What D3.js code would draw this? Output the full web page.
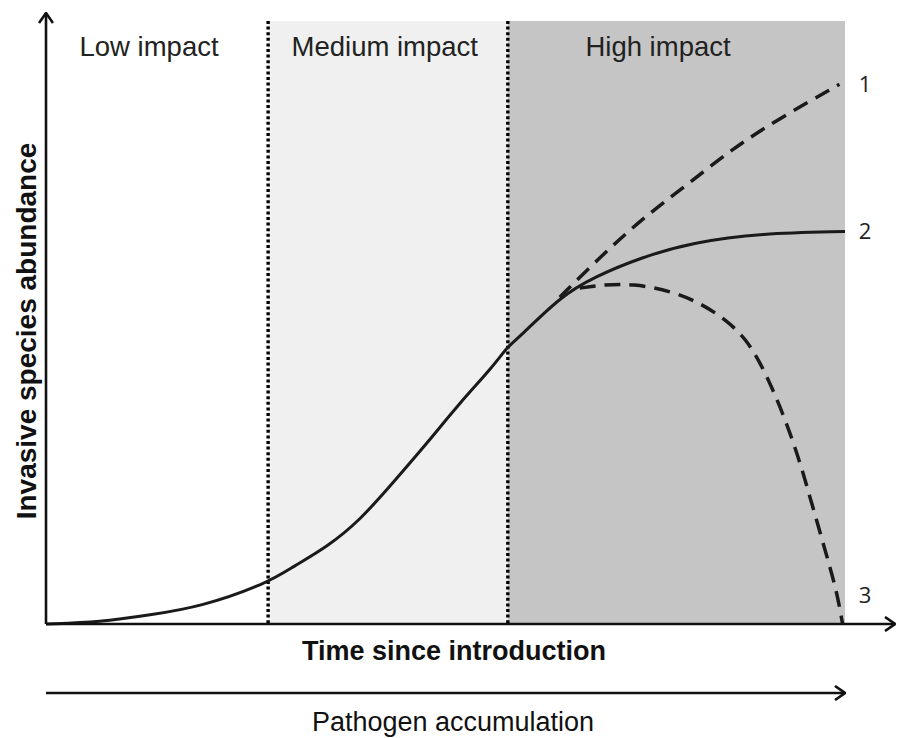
<!DOCTYPE html>
<html>
<head>
<meta charset="utf-8">
<script src="https://cdn.jsdelivr.net/npm/d3@7"></script>
<style>
  body { margin: 0; background: #fff; }
  svg text { font-family: "Liberation Sans", Arial, sans-serif; }
</style>
</head>
<body>
<div id="chart"></div>
<script>
// Set dimensions
const width = 897;
const height = 738;

// Impact zones (time units, 0-100)
const zoneStart = [0, 27.8, 57.8];
const zoneEnd = [27.8, 57.8, 100];
const zoneNames = ["Low impact", "Medium impact", "High impact"];
const zoneFill = ["#ffffff", "#f0f0f0", "#c5c5c5"];
const zoneLabelX = [12.9, 42.4, 76.6];

// Solid curve (scenario 2)
const solidX = [0, 6.8, 13.0, 19.3, 27.8, 30.9, 35.2, 39.3, 43.4, 47.7, 51.8, 55.9, 57.8, 59.3, 64.3, 68.5, 74.7, 81.0, 89.4, 100];
const solidY = [0, 0.3, 1.5, 2.8, 6.8, 9.5, 12.8, 17.2, 23.4, 30.0, 36.7, 42.6, 46.1, 47.6, 54.2, 57.5, 60.9, 63.3, 64.8, 65.1];

// Dashed curve going up (scenario 1)
const upX = [64.3, 69.7, 74.7, 80.2, 86.0, 91.5, 99.3];
const upY = [54.2, 61.3, 67.3, 72.8, 78.9, 83.6, 89.5];

// Dashed curve collapsing (scenario 3)
const downX = [66.8, 69.3, 73.5, 78.5, 81.9, 85.2, 87.7, 89.4, 91.0, 92.7, 94.4, 95.6, 96.9, 98.1, 99.0, 99.6, 99.7];
const downY = [55.7, 56.2, 56.5, 55.1, 53.2, 50.4, 47.1, 43.3, 38.8, 33.3, 26.7, 21.1, 15.1, 9.5, 5.1, 0.7, 0];

// End labels
const endLabels = ["1", "2", "3"];
const endLabelY = [89.5, 65.1, 4.8];

const svg = d3.select("#chart")
  .append("svg")
  .attr("width", width)
  .attr("height", height);

// Scales
const xScale = d3.scaleLinear().domain([0, 100]).range([46, 845]);
const yScale = d3.scaleLinear().domain([0, 100]).range([624, 21]);

// arrow marker (open chevron)
svg.append("defs").append("marker")
  .attr("id", "chev")
  .attr("viewBox", "0 0 12 16")
  .attr("refX", 11)
  .attr("refY", 8)
  .attr("markerWidth", 12)
  .attr("markerHeight", 16)
  .attr("markerUnits", "userSpaceOnUse")
  .attr("orient", "auto")
  .append("path")
  .attr("d", "M1,1 L11,8 L1,15")
  .attr("fill", "none")
  .attr("stroke", "#111")
  .attr("stroke-width", 2.6);

// Zones
svg.selectAll(".zone")
  .data(d3.range(zoneStart.length))
  .enter()
  .append("rect")
  .attr("class", "zone")
  .attr("x", i => xScale(zoneStart[i]))
  .attr("y", yScale(100))
  .attr("width", i => xScale(zoneEnd[i]) - xScale(zoneStart[i]))
  .attr("height", yScale(0) - yScale(100))
  .attr("fill", i => zoneFill[i]);

// dotted dividers
svg.selectAll(".divider")
  .data(zoneStart.slice(1))
  .enter()
  .append("line")
  .attr("x1", d => xScale(d))
  .attr("x2", d => xScale(d))
  .attr("y1", yScale(100))
  .attr("y2", yScale(0))
  .attr("stroke", "#000")
  .attr("stroke-width", 3.4)
  .attr("stroke-dasharray", "3,2.6");

// zone labels
svg.selectAll(".zoneLabel")
  .data(d3.range(zoneNames.length))
  .enter()
  .append("text")
  .attr("x", i => xScale(zoneLabelX[i]))
  .attr("y", 56)
  .attr("text-anchor", "middle")
  .attr("font-size", "27.5px")
  .attr("fill", "#222")
  .text(i => zoneNames[i]);

// Curves
const line = d3.line()
  .x(d => xScale(d[0]))
  .y(d => yScale(d[1]))
  .curve(d3.curveBasis);

svg.append("path")
  .datum(d3.zip(solidX, solidY))
  .attr("d", line)
  .attr("fill", "none")
  .attr("stroke", "#1a1a1a")
  .attr("stroke-width", 3);

svg.append("path")
  .datum(d3.zip(upX, upY))
  .attr("d", line)
  .attr("fill", "none")
  .attr("stroke", "#1a1a1a")
  .attr("stroke-width", 3.5)
  .attr("stroke-dasharray", "16,9");

svg.append("path")
  .datum(d3.zip(downX, downY))
  .attr("d", line)
  .attr("fill", "none")
  .attr("stroke", "#1a1a1a")
  .attr("stroke-width", 3.5)
  .attr("stroke-dasharray", "16,9");

// end labels
svg.selectAll(".endLabel")
  .data(d3.range(endLabels.length))
  .enter()
  .append("text")
  .attr("x", 865)
  .attr("y", i => yScale(endLabelY[i]) + 8)
  .attr("text-anchor", "middle")
  .attr("font-size", "22px")
  .style("font-family", "'Open Sans', sans-serif")
  .attr("fill", "#222")
  .text(i => endLabels[i]);

// Axes with arrows
svg.append("line")
  .attr("x1", xScale(0)).attr("y1", yScale(0))
  .attr("x2", 895).attr("y2", yScale(0))
  .attr("stroke", "#111").attr("stroke-width", 2.6)
  .attr("marker-end", "url(#chev)");

svg.append("line")
  .attr("x1", xScale(0)).attr("y1", yScale(0))
  .attr("x2", xScale(0)).attr("y2", 13)
  .attr("stroke", "#111").attr("stroke-width", 2.6)
  .attr("marker-end", "url(#chev)");

// Axis titles
svg.append("text")
  .attr("x", 454)
  .attr("y", 660)
  .attr("text-anchor", "middle")
  .attr("font-size", "27px")
  .attr("font-weight", "bold")
  .attr("fill", "#111")
  .text("Time since introduction");

svg.append("text")
  .attr("transform", "translate(36,331) rotate(-90)")
  .attr("text-anchor", "middle")
  .attr("font-size", "28px")
  .attr("font-weight", "bold")
  .attr("fill", "#111")
  .text("Invasive species abundance");

// Pathogen arrow
svg.append("line")
  .attr("x1", xScale(0)).attr("y1", 693)
  .attr("x2", xScale(100)).attr("y2", 693)
  .attr("stroke", "#111").attr("stroke-width", 2.6)
  .attr("marker-end", "url(#chev)");

svg.append("text")
  .attr("x", 453)
  .attr("y", 731)
  .attr("text-anchor", "middle")
  .attr("font-size", "27px")
  .attr("fill", "#111")
  .text("Pathogen accumulation");
</script>
</body>
</html>
